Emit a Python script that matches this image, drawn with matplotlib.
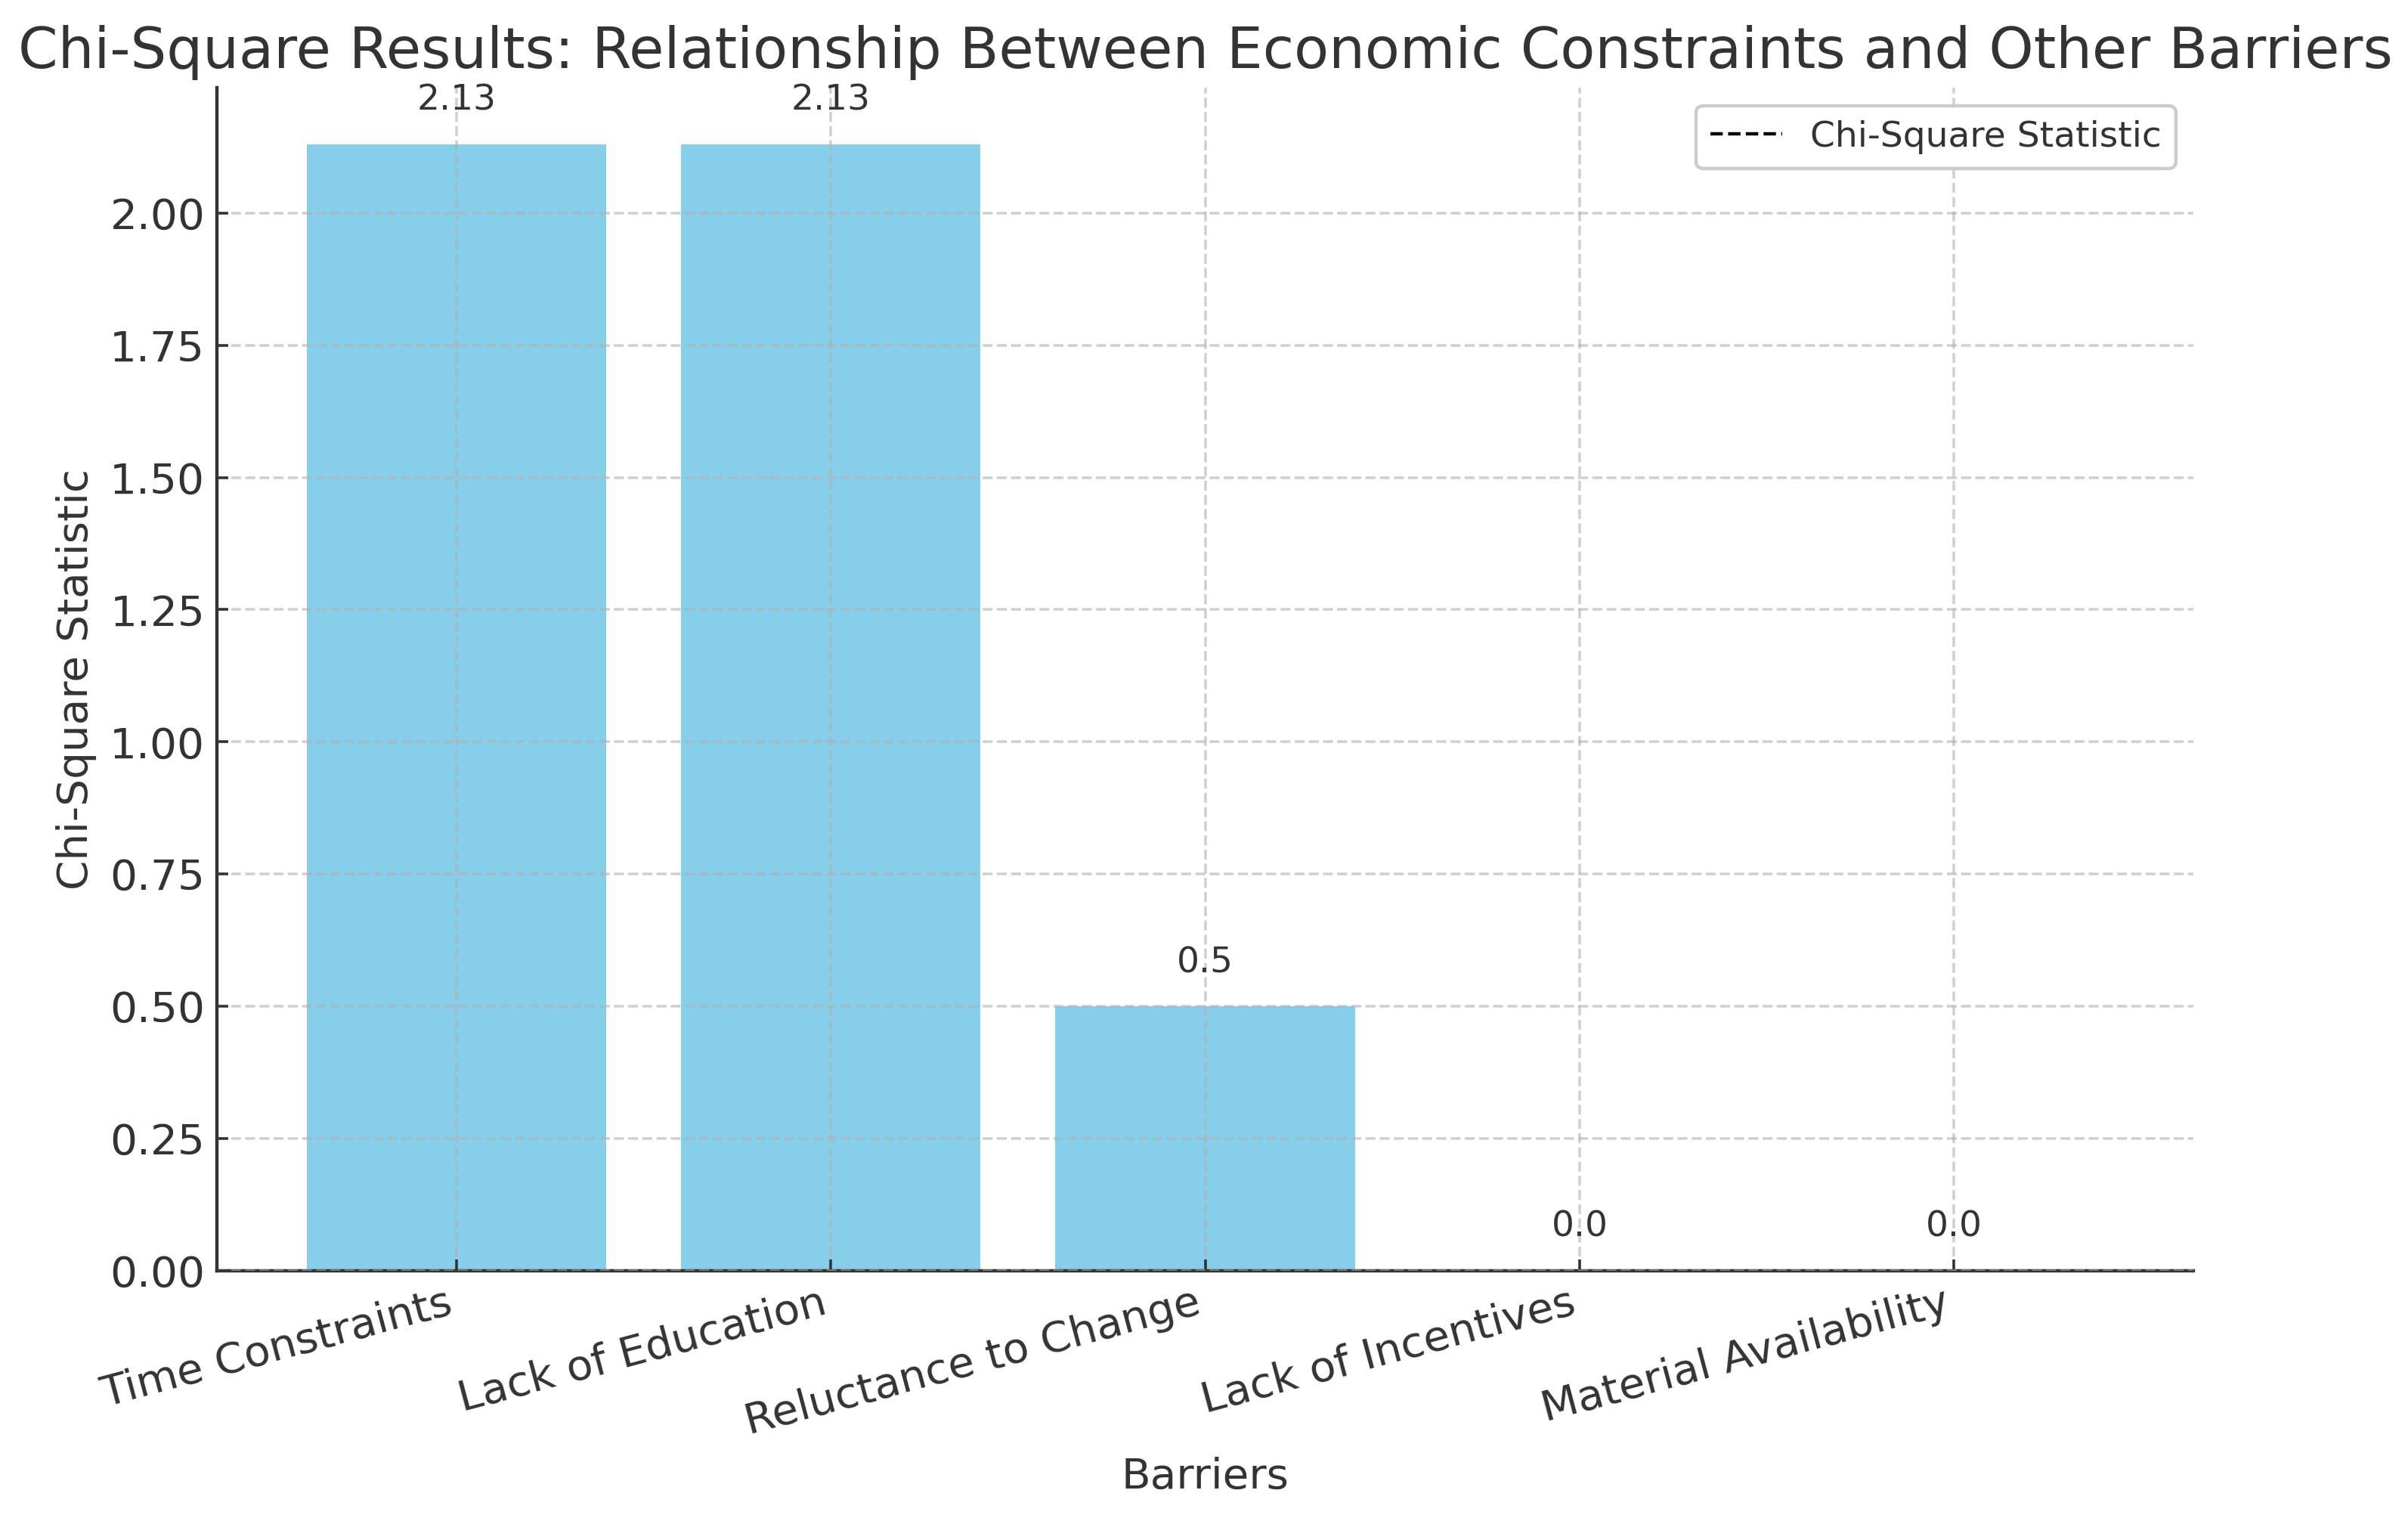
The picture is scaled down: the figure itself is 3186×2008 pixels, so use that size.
import matplotlib
matplotlib.use("Agg")
import matplotlib.pyplot as plt

barriers = ["Time Constraints", "Lack of Education", "Reluctance to Change",
            "Lack of Incentives", "Material Availability"]
chi_square = [2.13, 2.13, 0.5, 0.0, 0.0]

plt.rcParams['font.family'] = ['DejaVu Sans']
text_color = '#333333'
k = 1.065

fig = plt.figure(figsize=(10, 6.3026), dpi=318.6)
ax = fig.add_axes([0.090, 0.163, 0.821, 0.779])

x = list(range(len(barriers)))
ax.bar(x, chi_square, color='skyblue', width=0.8)
ax.plot([], [], color='black', linestyle='--', linewidth=1, label='Chi-Square Statistic')

for i, v in enumerate(chi_square):
    ax.text(i, v + 0.05, str(round(v, 2)), ha='center', va='bottom',
            fontsize=10 * k, color=text_color)

ax.set_xticks(x)
ax.set_xticklabels(barriers, rotation=15, ha='right', fontsize=12 * k, color=text_color)
ax.tick_params(axis='y', labelsize=12 * k, labelcolor=text_color)
ax.tick_params(direction='in', length=3.5, width=0.8, colors=text_color)
ax.set_xlabel('Barriers', fontsize=12 * k, color=text_color)
ax.set_ylabel('Chi-Square Statistic', fontsize=12 * k, color=text_color)
ax.set_title('Chi-Square Results: Relationship Between Economic Constraints and Other Barriers',
             fontsize=16 * k, color=text_color)

ax.grid(True, linestyle='--', color='#b0b0b0', alpha=0.6, linewidth=0.8)
ax.set_axisbelow(False)
for s in ['top', 'right']:
    ax.spines[s].set_visible(False)
for s in ['left', 'bottom']:
    ax.spines[s].set_color(text_color)
    ax.spines[s].set_linewidth(1.0)

leg = ax.legend(loc='upper right', fontsize=10 * k, framealpha=1.0)
leg.get_frame().set_edgecolor('#cccccc')
for t in leg.get_texts():
    t.set_color(text_color)

fig.savefig('out.png', dpi=318.6)
